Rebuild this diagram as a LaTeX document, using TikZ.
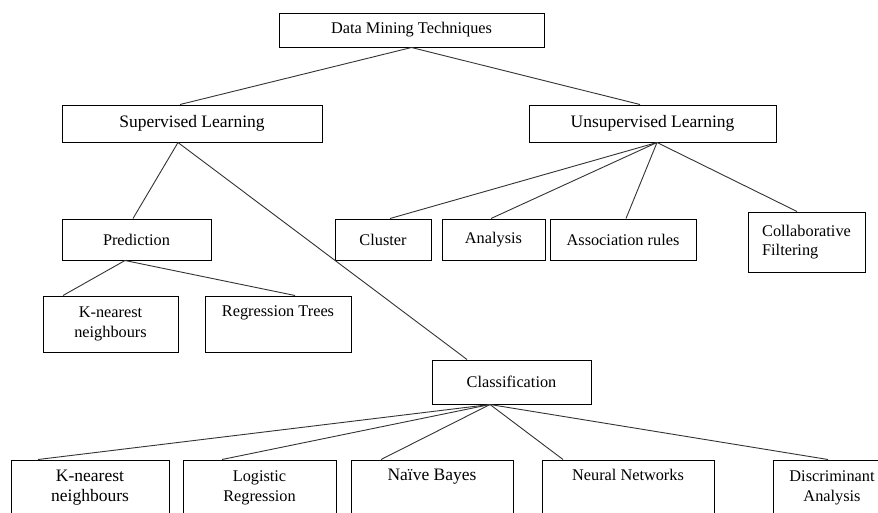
\documentclass[tikz,border=0pt]{standalone}
\usepackage{fontspec}
\setmainfont{Liberation Serif}
\usetikzlibrary{positioning}
\tikzset{tech node/.style={rectangle,draw,line width=1pt,inner sep=2pt,align=center,font=\fontsize{16.3}{19.5}\selectfont},big node/.style={tech node,font=\fontsize{17.5}{20}\selectfont},edge/.style={line width=0.9pt,black!80}}

\begin{document}
\begin{tikzpicture}
    \useasboundingbox[fill=white] (0,0) rectangle (878pt,-512pt);
    \node[tech node, on grid, minimum width=265pt, minimum height=34pt] (dmt) at (411.5pt,-30pt) {Data Mining Techniques};
    \node[big node, on grid, minimum width=260pt, minimum height=37pt] (sup) [below left = 93.5pt and 219.5pt of dmt] {Supervised Learning};
    \node[big node, on grid, minimum width=247pt, minimum height=37pt] (unsup) [below right = 93.5pt and 241pt of dmt] {Unsupervised Learning};
    \node[tech node, on grid, minimum width=149pt, minimum height=41pt] (pred) [below left = 116pt and 55.5pt of sup] {Prediction};
    \node[tech node, on grid, minimum width=159pt, minimum height=44pt] (clas) [below right = 258.5pt and 319.5pt of sup] {Classification};
    \node[tech node, on grid, minimum width=135pt, minimum height=56pt] (knn1) [below left = 84.5pt and 26pt of pred] {K-nearest\\neighbours};
    \node[tech node, on grid, minimum width=146pt, minimum height=56pt] (regt) [below right = 84.5pt and 141.5pt of pred] {Regression Trees\\\strut};
    \node[tech node, on grid, minimum width=96pt, minimum height=41pt] (clus) [below left = 116pt and 269.5pt of unsup] {Cluster};
    \node[tech node, on grid, minimum width=103pt, minimum height=41pt] (anal) [below left = 116pt and 159pt of unsup] {Analysis};
    \node[tech node, on grid, minimum width=146pt, minimum height=41pt] (assoc) [below left = 116pt and 29.5pt of unsup] {Association rules};
    \node[tech node, on grid, align=left, minimum width=117pt, minimum height=60pt] (collab) [below right = 118.5pt and 154pt of unsup] {Collaborative\\Filtering};
    \node[big node, on grid, minimum width=158pt, minimum height=56pt] (knn2) [below left = 106pt and 421.5pt of clas] {K-nearest\\neighbours};
    \node[tech node, on grid, minimum width=153pt, minimum height=56pt] (logi) [below left = 106pt and 252pt of clas] {Logistic\\Regression};
    \node[big node, on grid, minimum width=162pt, minimum height=56pt] (naive) [below left = 106pt and 79.5pt of clas] {Naïve Bayes\\\strut};
    \node[tech node, on grid, minimum width=172pt, minimum height=56pt] (neural) [below right = 106pt and 116.5pt of clas] {Neural Networks\\\strut};
    \node[tech node, on grid, minimum width=118pt, minimum height=56pt] (disc) [below right = 106pt and 320.5pt of clas] {Discriminant\\Analysis};
    \path[edge] (dmt.south) edge ([xshift=-12pt]sup.north);
    \path[edge] (dmt.south) edge ([xshift=-12.5pt]unsup.north);
    \path[edge] ([xshift=-14pt]sup.south) edge ([xshift=-3.5pt]pred.north);
    \path[edge] ([xshift=-14pt]sup.south) edge ([xshift=-44.5pt]clas.north);
    \path[edge] ([xshift=-11.5pt]pred.south) edge ([xshift=-47.5pt]knn1.north);
    \path[edge] ([xshift=-11.5pt]pred.south) edge ([xshift=17pt]regt.north);
    \path[edge] ([xshift=4.5pt]unsup.south) edge ([xshift=7pt]clus.north);
    \path[edge] ([xshift=4.5pt]unsup.south) edge ([xshift=-2.5pt]anal.north);
    \path[edge] ([xshift=4.5pt]unsup.south) edge ([xshift=3pt]assoc.north);
    \path[edge] ([xshift=4.5pt]unsup.south) edge ([xshift=-9.5pt]collab.north);
    \path[edge] ([xshift=-21.5pt]clas.south) edge ([xshift=-52pt]knn2.north);
    \path[edge] ([xshift=-21.5pt]clas.south) edge ([xshift=-37.5pt]logi.north);
    \path[edge] ([xshift=-21.5pt]clas.south) edge ([xshift=-51pt]naive.north);
    \path[edge] ([xshift=-21.5pt]clas.south) edge ([xshift=-65pt]neural.north);
    \path[edge] ([xshift=-21.5pt]clas.south) edge ([xshift=-4pt]disc.north);
  \end{tikzpicture}
\end{document}
